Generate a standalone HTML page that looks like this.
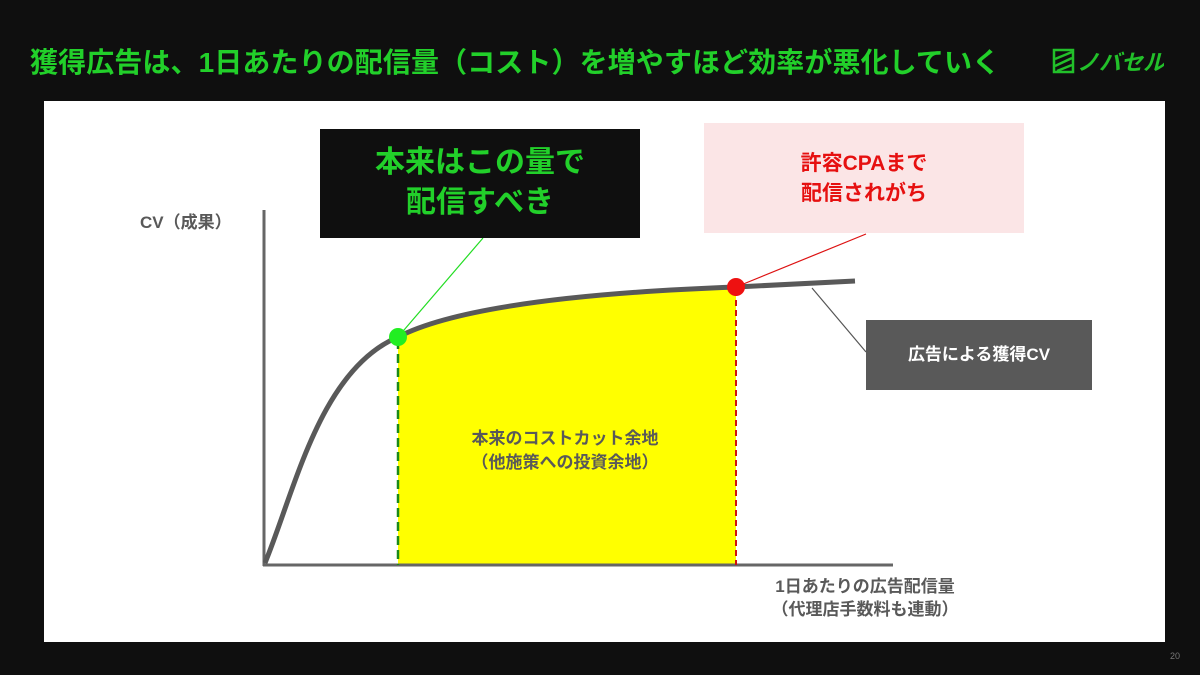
<!DOCTYPE html>
<html><head><meta charset="utf-8"><style>
body{margin:0;width:1200px;height:675px;background:#0f0f0f;position:relative;overflow:hidden;font-family:"Liberation Sans","Noto Sans CJK JP",sans-serif}
.t{position:absolute;left:30px;top:41px;color:#22d02a;font-weight:bold;font-size:28px;white-space:nowrap;letter-spacing:0.1px}
.panel{position:absolute;left:44px;top:101px;width:1121px;height:541px;background:#fff}
.ab{position:absolute;text-align:center;font-weight:bold}
</style></head><body>
<div class="t">獲得広告は、1日あたりの配信量（コスト）を増やすほど効率が悪化していく</div>
<svg style="position:absolute;left:1052px;top:48px" width="112" height="28">
<rect x="2" y="2" width="19" height="22" fill="none" stroke="#22c02a" stroke-width="2.5"/>
<path d="M3 11 L20 4 M3 18 L20 10 M5 23 L20 17" stroke="#22c02a" stroke-width="2.5" fill="none"/>
<text x="25" y="22" font-size="22" font-weight="bold" fill="#22c02a" font-style="italic" font-family="Liberation Sans,Noto Sans CJK JP,sans-serif">ノバセル</text>
</svg>
<div class="panel"></div>
<svg style="position:absolute;left:0;top:0" width="1200" height="675">
<path d="M398,337 C460,305 600,292 736,287 L736,565 L398,565 Z" fill="#ffff00"/>
<line x1="264" y1="210" x2="264" y2="566" stroke="#666" stroke-width="3"/>
<line x1="263" y1="565" x2="893" y2="565" stroke="#666" stroke-width="3"/>
<line x1="398" y1="340" x2="398" y2="565" stroke="#1a8a1a" stroke-width="2.5" stroke-dasharray="9,5"/>
<line x1="736" y1="290" x2="736" y2="565" stroke="#d01010" stroke-width="2" stroke-dasharray="6,4"/>
<path d="M265,563 C295,490 320,370 398,337 C460,305 600,292 736,287 L855,281" fill="none" stroke="#595959" stroke-width="5"/>
<line x1="398" y1="337" x2="483" y2="238" stroke="#22dd22" stroke-width="1.2"/>
<line x1="736" y1="287" x2="866" y2="234" stroke="#dd1111" stroke-width="1.2"/>
<line x1="812" y1="288" x2="866" y2="352" stroke="#555" stroke-width="1.2"/>
<circle cx="398" cy="337" r="9" fill="#22ee22"/>
<circle cx="736" cy="287" r="9" fill="#ee1111"/>
</svg>
<div class="ab" style="left:320px;top:129px;width:320px;height:109px;background:#0f0f0f;color:#22d02a;font-size:30px;line-height:40px;padding-top:14px;box-sizing:border-box">本来はこの量で<br>配信すべき</div>
<div class="ab" style="left:704px;top:123px;width:320px;height:110px;background:#fbe5e6;color:#e61010;font-size:21px;line-height:30px;padding-top:26px;box-sizing:border-box">許容CPAまで<br>配信されがち</div>
<div class="ab" style="left:866px;top:320px;width:226px;height:70px;background:#595959;color:#fff;font-size:17px;line-height:70px">広告による獲得CV</div>
<div class="ab" style="left:140px;top:208px;width:110px;color:#595959;font-size:17px;text-align:left">CV（成果）</div>
<div class="ab" style="left:430px;top:427px;width:270px;color:#595959;font-size:17px;line-height:24px">本来のコストカット余地<br>（他施策への投資余地）</div>
<div class="ab" style="left:740px;top:575px;width:250px;color:#595959;font-size:17px;line-height:23px">1日あたりの広告配信量<br>（代理店手数料も連動）</div>
<div style="position:absolute;left:1170px;top:651px;color:#777;font-size:9px">20</div>
</body></html>
